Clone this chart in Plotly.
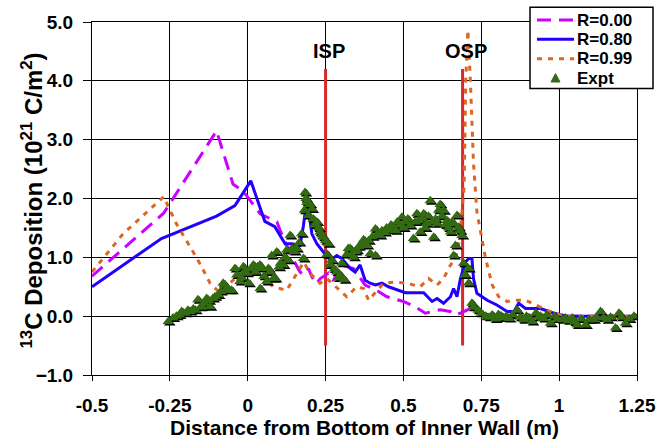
import numpy as np
import plotly.graph_objects as go

# ---------------- data ----------------
r000_x = [-0.5, -0.27, -0.1, -0.047, -0.015, 0.04, 0.094, 0.104, 0.141, 0.168, 0.18, 0.195, 0.206,
          0.22, 0.233, 0.259, 0.275, 0.297, 0.34, 0.377, 0.42, 0.447, 0.5, 0.538, 0.57, 0.597, 0.618,
          0.65, 0.666, 0.683, 0.704, 0.715, 0.747, 0.8, 1.0, 1.25]
r000_y = [0.68, 1.75, 3.15, 2.24, 2.13, 1.74, 1.6, 1.46, 1.01, 0.75, 0.7, 0.81, 0.67,
          0.55, 0.64, 0.73, 0.6, 0.87, 0.81, 0.53, 0.42, 0.33, 0.25, 0.16, 0.05, 0.08, 0.11,
          0.08, 0.02, 0.05, 0.11, 0.13, 0.03, 0.0, 0.0, 0.0]

r080_x = [-0.5, -0.277, -0.1, -0.041, 0.01, 0.055, 0.087, 0.104, 0.12, 0.141, 0.168, 0.179, 0.19,
          0.206, 0.222, 0.243, 0.265, 0.286, 0.302, 0.329, 0.345, 0.361, 0.377, 0.393, 0.41, 0.431,
          0.452, 0.506, 0.565, 0.592, 0.608, 0.629, 0.651, 0.661, 0.672, 0.683, 0.699, 0.71, 0.72,
          0.725, 0.736, 0.769, 0.8, 0.833, 0.855, 0.87, 0.892, 0.94, 0.983, 1.026, 1.25]
r080_y = [0.5, 1.32, 1.7, 1.88, 2.3, 1.61, 1.52, 1.37, 1.23, 1.23, 1.2, 1.54, 2.0,
          1.4, 1.23, 1.09, 0.95, 1.03, 0.98, 0.81, 0.75, 0.87, 0.61, 0.56, 0.53, 0.56,
          0.5, 0.4, 0.4, 0.25, 0.3, 0.22, 0.33, 0.47, 0.33, 0.64, 0.92, 0.98, 0.98,
          0.64, 0.39, 0.27, 0.19, 0.08, 0.08, 0.22, 0.13, 0.13, 0.05, 0.0, 0.0]

r099_x = [-0.5, -0.4, -0.27, -0.229, -0.175, -0.148, -0.121, -0.09, -0.045, 0.007, 0.04, 0.082,
          0.125, 0.18, 0.2, 0.232, 0.254, 0.3, 0.318, 0.35, 0.372, 0.388, 0.436, 0.474, 0.511,
          0.554, 0.581, 0.608, 0.629, 0.651, 0.667, 0.68, 0.695, 0.70, 0.707, 0.715, 0.725,
          0.736, 0.752, 0.763, 0.785, 0.806, 0.833, 0.86, 0.892, 0.94, 0.983, 1.03, 1.25]
r099_y = [0.75, 1.4, 2.03, 1.57, 1.09, 0.84, 0.56, 0.4, 0.62, 0.73, 0.7, 0.5,
          0.44, 0.92, 0.73, 0.56, 0.64, 0.42, 0.33, 0.5, 0.47, 0.27, 0.56, 0.58, 0.56,
          0.5, 0.64, 0.53, 0.64, 0.87, 0.98, 1.3, 2.2, 4.0, 4.86, 4.0, 2.6,
          1.77, 1.32, 1.0, 0.53, 0.33, 0.25, 0.27, 0.27, 0.16, 0.05, 0.0, 0.0]

expt_x = [-0.255, -0.24, -0.229, -0.22, -0.212, -0.2, -0.192, -0.185, -0.175, -0.168, -0.16, -0.152,
          -0.148, -0.14, -0.132, -0.125, -0.121, -0.112, -0.105, -0.095, -0.087, -0.079, -0.073,
          -0.068, -0.06, -0.052, -0.041, -0.035, -0.025, -0.02, -0.014, -0.008, -0.003, 0.003, 0.01,
          0.018, 0.025, 0.032, 0.039, 0.04, 0.045, 0.052, 0.061, 0.066, 0.072, 0.077, 0.082, 0.088,
          0.093, 0.1, 0.105, 0.114, 0.12, 0.125, 0.13, 0.136, 0.142, 0.15, 0.157, 0.165, 0.173,
          0.179, 0.182, 0.184, 0.187, 0.19, 0.195, 0.2, 0.206, 0.21, 0.216, 0.222, 0.228, 0.232,
          0.238, 0.243, 0.25, 0.255, 0.259, 0.265, 0.27, 0.278, 0.286, 0.292, 0.297, 0.302, 0.31,
          0.318, 0.323, 0.329, 0.334, 0.34, 0.345, 0.35, 0.356, 0.366, 0.372, 0.383, 0.388, 0.393,
          0.4, 0.41, 0.41, 0.418, 0.425, 0.431, 0.44, 0.446, 0.452, 0.46, 0.468, 0.475, 0.48,
          0.488, 0.495, 0.5, 0.506, 0.514, 0.522, 0.532, 0.538, 0.543, 0.549, 0.554, 0.56, 0.565,
          0.57, 0.575, 0.58, 0.586, 0.592, 0.597, 0.603, 0.608, 0.613, 0.618, 0.624, 0.629, 0.635,
          0.64, 0.645, 0.651, 0.656, 0.661, 0.661, 0.667, 0.672, 0.677, 0.682, 0.688, 0.693, 0.698,
          0.709, 0.709, 0.72, 0.725, 0.74, 0.75, 0.765, 0.775, 0.785, 0.795, 0.805, 0.815, 0.822,
          0.83, 0.84, 0.85, 0.865, 0.875, 0.886, 0.895, 0.905, 0.913, 0.925, 0.935, 0.94, 0.95,
          0.96, 0.972, 0.985, 0.995, 1.01, 1.02, 1.03, 1.042, 1.05, 1.058, 1.07, 1.085, 1.095,
          1.111, 1.12, 1.133, 1.143, 1.154, 1.165, 1.181, 1.192, 1.2, 1.213, 1.225, 1.24]
expt_y = [-0.09, -0.03, 0.0, 0.02, 0.08, 0.05, 0.1, 0.08, 0.12, 0.1, 0.28, 0.15,
          0.17, 0.22, 0.3, 0.26, 0.16, 0.3, 0.33, 0.36, 0.42, 0.56, 0.53,
          0.47, 0.44, 0.44, 0.81, 0.7, 0.59, 0.65, 0.84, 0.76, 0.73, 0.56, 0.8,
          0.87, 0.75, 0.84, 0.87, 0.47, 0.81, 0.68, 0.59, 0.81, 0.75, 1.03, 0.64, 0.64,
          1.09, 0.83, 0.9, 0.87, 1.0, 1.12, 0.95, 1.37, 1.15, 1.1, 1.15, 1.25, 1.4,
          0.98, 1.8, 2.1, 2.0, 1.93, 1.71, 1.9, 1.82, 1.65, 1.55, 1.6, 1.5, 1.43,
          1.38, 1.34, 1.28, 1.05, 1.23, 0.87, 0.95, 0.8, 0.75, 0.65, 0.7, 0.9, 0.62,
          1.05, 1.15, 1.15, 1.05, 1.0, 1.1, 1.12, 1.18, 1.23, 1.3, 1.2, 1.28, 1.06,
          1.35, 1.03, 1.48, 1.4, 1.37, 1.45, 1.42, 1.5, 1.46, 1.55, 1.51, 1.45, 1.6,
          1.55, 1.68, 1.5, 1.6, 1.65, 1.54, 1.32, 1.6, 1.74, 1.62, 1.43, 1.65, 1.74,
          1.5, 1.57, 1.7, 1.96, 1.6, 1.34, 1.65, 1.57, 1.8, 1.9, 1.7, 1.79, 1.55,
          1.62, 1.5, 1.43, 1.6, 1.03, 1.57, 1.2, 1.71, 1.51, 1.45, 1.37, 0.9, 0.7,
          0.81, 0.56, 0.22, 0.15, 0.1, 0.05, 0.0, -0.02, 0.02, -0.05, 0.03, 0.0, -0.03,
          0.0, -0.04, 0.02, 0.1, -0.02, -0.06, 0.0, -0.03, -0.09, 0.05, -0.02, 0.0, -0.04,
          0.02, -0.12, 0.0, -0.05, -0.06, -0.03, -0.08, -0.03, -0.1, -0.15, -0.05, -0.15, -0.06,
          -0.06, -0.02, 0.08, -0.03, -0.06, -0.02, -0.2, 0.05, -0.02, -0.12, -0.05, 0.0]

sp_x = [0.25, 0.69]
sp_labels = ["ISP", "OSP"]
sp_bottom = -0.5
sp_top = 4.2
sp_label_y = 4.5

x_ticks = [-0.5, -0.25, 0, 0.25, 0.5, 0.75, 1, 1.25]
x_ticktext = ["-0.5", "-0.25", "0", "0.25", "0.5", "0.75", "1", "1.25"]

legend_names = ["R=0.00", "R=0.80", "R=0.99", "Expt"]

x_title = "Distance from Bottom of Inner Wall (m)"
y_title = "<sup>13</sup>C Deposition (10<sup>21</sup> C/m<sup>2</sup>)"

# ---------------- styling ----------------
FONT = "Liberation Sans, Arial, sans-serif"
W, H = 670, 444
ML, MR, MT, MB = 92, 33, 21, 67
PW, PH = W - ML - MR, H - MT - MB
X_RANGE = [-0.5, 1.25]
Y_RANGE = [-1, 5]

C_R000, C_R080, C_R099 = "#CC00FF", "#2200FF", "#DD6622"
C_EXPT, C_SP = "#336B12", "#D42A2A"
D_R000, D_R099 = "14px,8px", "5px,6px"


def px_x(p):
    """pixel column -> paper x"""
    return (p - ML) / PW


def px_y(p):
    """pixel row -> paper y"""
    return (H - MB - p) / PH


# shadow offset for the experimental triangles (in data units, ~1.5 px)
dx = 1.5 * (X_RANGE[1] - X_RANGE[0]) / PW
dy = 1.5 * (Y_RANGE[1] - Y_RANGE[0]) / PH

fig = go.Figure()

for xv in sp_x:
    fig.add_trace(go.Scatter(x=[xv, xv], y=[sp_bottom, sp_top], mode="lines",
                             line=dict(color=C_SP, width=3), showlegend=False,
                             hoverinfo="skip"))

fig.add_trace(go.Scatter(x=r000_x, y=r000_y, mode="lines", name=legend_names[0],
                         line=dict(color=C_R000, width=3, dash=D_R000), showlegend=False))
fig.add_trace(go.Scatter(x=r080_x, y=r080_y, mode="lines", name=legend_names[1],
                         line=dict(color=C_R080, width=3), showlegend=False))
fig.add_trace(go.Scatter(x=r099_x, y=r099_y, mode="lines", name=legend_names[2],
                         line=dict(color=C_R099, width=3, dash=D_R099), showlegend=False))

ex = np.array(expt_x)
ey = np.array(expt_y)
fig.add_trace(go.Scatter(x=ex + dx, y=ey - dy, mode="markers", showlegend=False,
                         marker=dict(symbol="triangle-up", size=10, color="#000000"),
                         hoverinfo="skip"))
fig.add_trace(go.Scatter(x=ex, y=ey, mode="markers", name=legend_names[3], showlegend=False,
                         marker=dict(symbol="triangle-up", size=10, color=C_EXPT)))

for xv, lab in zip(sp_x, sp_labels):
    fig.add_annotation(x=xv, y=sp_label_y, text=lab, showarrow=False, xshift=3,
                       font=dict(family=FONT, size=20, color="black", weight="bold"))

# y-axis title placed as a rotated annotation
fig.add_annotation(xref="paper", yref="paper", x=px_x(32), y=px_y(201),
                   xanchor="center", yanchor="middle", textangle=-90,
                   text=y_title, showarrow=False,
                   font=dict(family=FONT, size=24, color="black", weight="bold"))

# ---- compact legend box (top right, overlapping the frame) ----
shapes = [dict(type="rect", xref="paper", yref="paper",
               x0=px_x(530), x1=px_x(653), y0=px_y(88), y1=px_y(6),
               line=dict(color="black", width=1.5), fillcolor="white", layer="above")]
rows_y = [19, 38.5, 58, 77.5]
samples = [(C_R000, D_R000), (C_R080, "solid"), (C_R099, D_R099)]
for (col, dsh), ry in zip(samples, rows_y[:3]):
    shapes.append(dict(type="line", xref="paper", yref="paper",
                       x0=px_x(537), x1=px_x(574), y0=px_y(ry), y1=px_y(ry),
                       line=dict(color=col, width=3, dash=dsh), layer="above"))
tx, ty = 555.5, rows_y[3]
shapes.append(dict(type="path", xref="paper", yref="paper",
                   path=f"M {px_x(tx - 4.5)} {px_y(ty + 4)} L {px_x(tx + 4.5)} {px_y(ty + 4)} "
                        f"L {px_x(tx)} {px_y(ty - 4.5)} Z",
                   line=dict(color=C_EXPT, width=1), fillcolor=C_EXPT, layer="above"))
for name, ry in zip(legend_names, rows_y):
    fig.add_annotation(xref="paper", yref="paper", x=px_x(576), y=px_y(ry),
                       xanchor="left", yanchor="middle", text=name, showarrow=False,
                       borderpad=0,
                       font=dict(family=FONT, size=17, color="black", weight="bold"))

fig.update_layout(
    width=W, height=H,
    margin=dict(l=ML, r=MR, t=MT, b=MB),
    paper_bgcolor="white", plot_bgcolor="white",
    font=dict(family=FONT, size=18, color="black", weight="bold"),
    showlegend=False,
    shapes=shapes,
    xaxis=dict(range=X_RANGE, tickvals=x_ticks, ticktext=x_ticktext,
               showgrid=True, gridcolor="#000000", gridwidth=1,
               showline=True, linecolor="black", linewidth=1, mirror=True,
               ticks="outside", ticklen=5, tickcolor="black", zeroline=False,
               ticklabelstandoff=8,
               tickfont=dict(family=FONT, size=19, weight="bold"),
               title=dict(text=x_title,
                          font=dict(family=FONT, size=21, weight="bold"), standoff=2)),
    yaxis=dict(range=Y_RANGE, dtick=1, tickformat=".1f",
               showgrid=True, gridcolor="#000000", gridwidth=1,
               showline=True, linecolor="black", linewidth=1, mirror=True,
               ticks="outside", ticklen=8, tickcolor="black", zeroline=False,
               ticklabelstandoff=6,
               tickfont=dict(family=FONT, size=19, weight="bold")),
)

fig.write_html("out.html")
